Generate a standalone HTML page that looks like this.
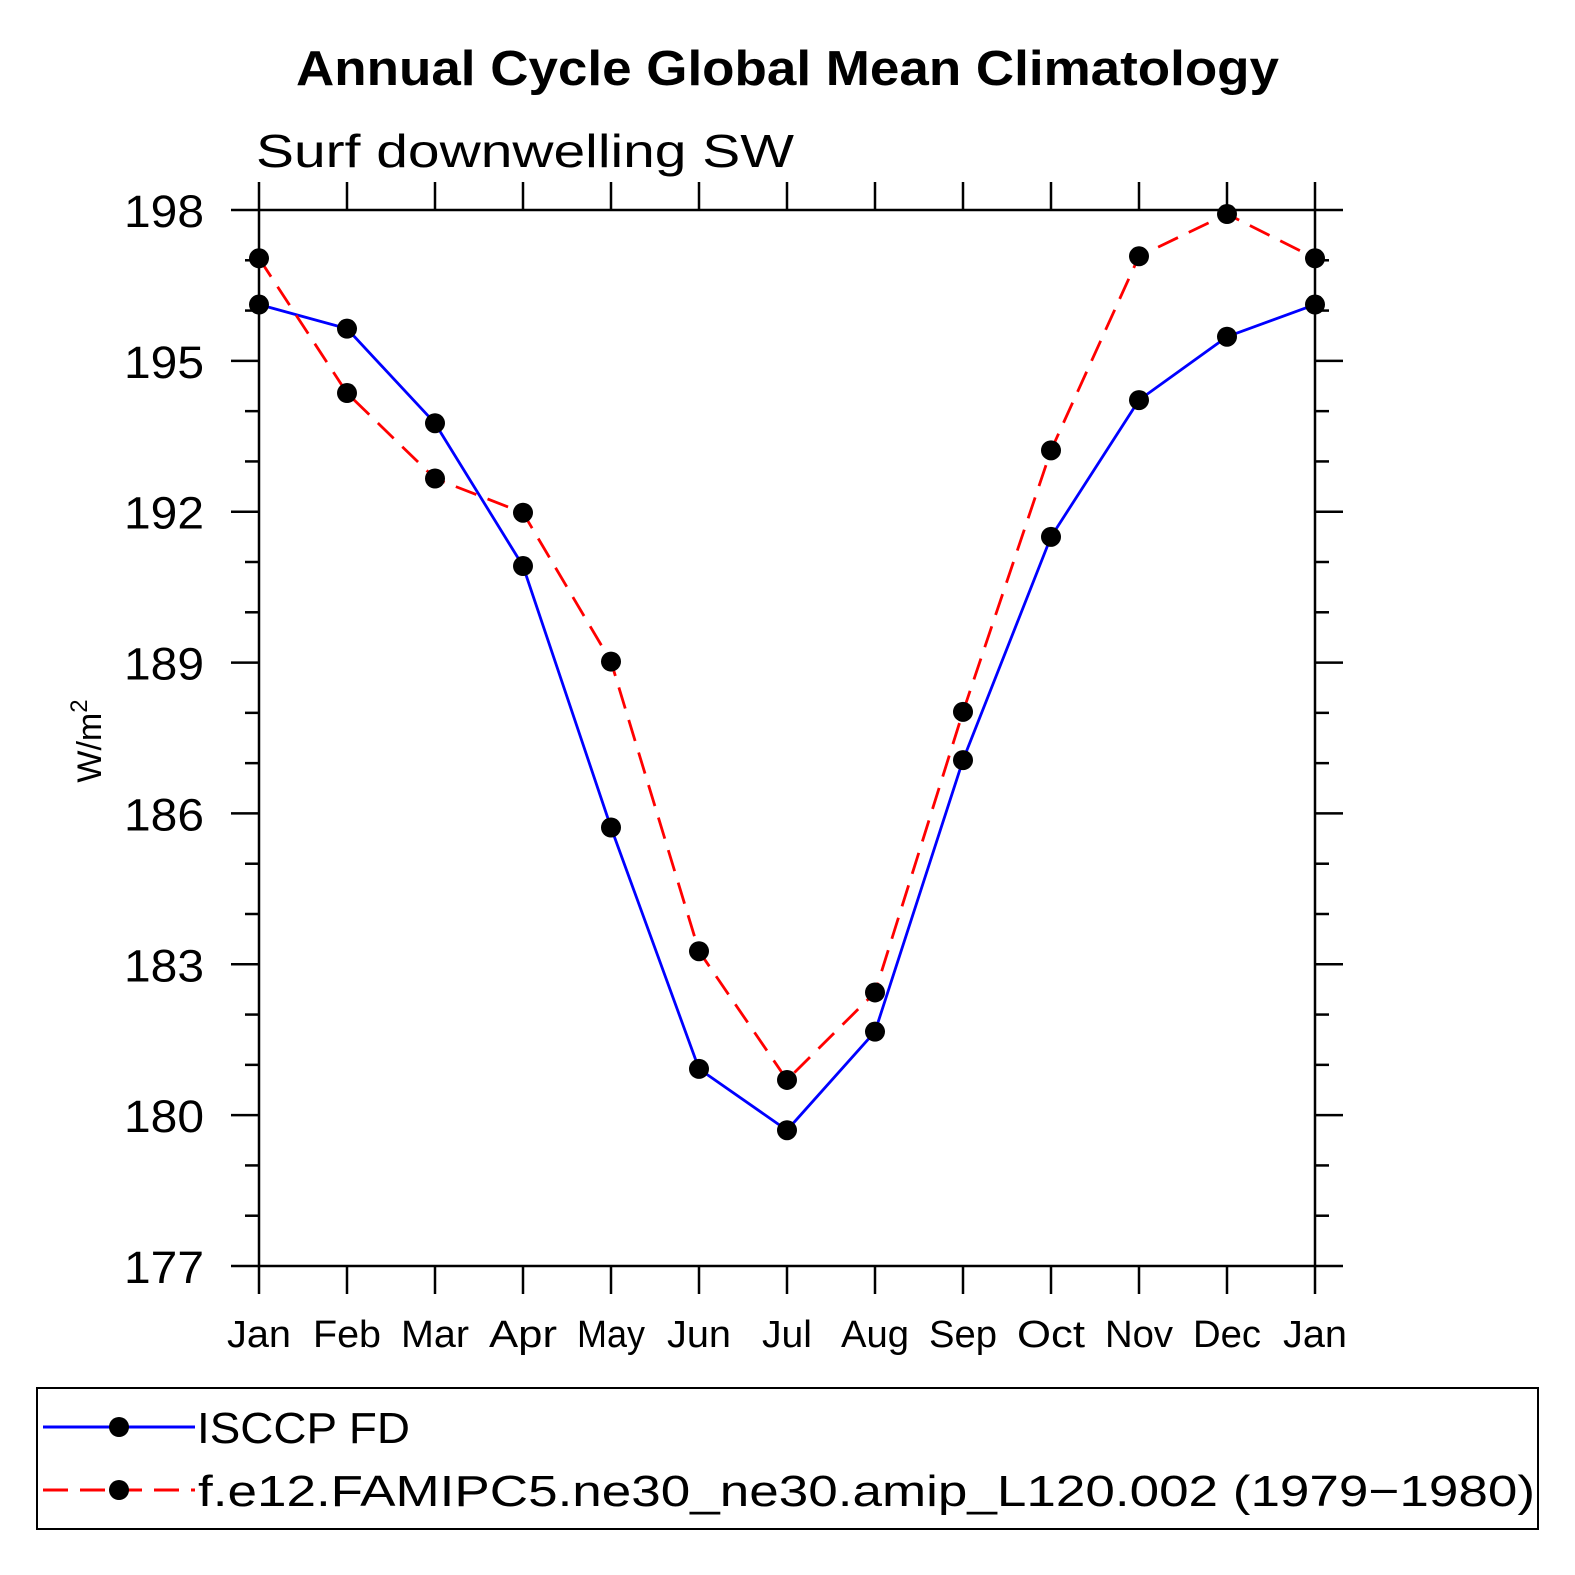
<!DOCTYPE html>
<html><head><meta charset="utf-8"><style>
html,body{margin:0;padding:0;background:#fff;overflow:hidden;width:100%;height:100%}
svg{display:block;position:fixed;left:0;top:0;width:100vw;height:100vh}
text{font-family:"Liberation Sans","DejaVu Sans",sans-serif}
</style></head><body>
<svg id="c" viewBox="0 0 1575 1575" preserveAspectRatio="none" xmlns="http://www.w3.org/2000/svg">
<rect width="1575" height="1575" fill="#fff"/>
<text x="296" y="85" font-size="49" font-weight="bold" textLength="983" lengthAdjust="spacingAndGlyphs">Annual Cycle Global Mean Climatology</text>
<text x="256" y="167" font-size="46" textLength="538" lengthAdjust="spacingAndGlyphs">Surf  downwelling SW</text>
<text transform="translate(101,741) rotate(-90)" font-size="34" text-anchor="middle">W/m<tspan dy="-14" font-size="24">2</tspan></text>
<g id="axes"></g>
<g id="series"></g>
<rect x="37" y="1388" width="1501" height="141" fill="none" stroke="#000" stroke-width="2"/>
<g>
<line x1="43" y1="1427" x2="195" y2="1427" stroke="#00f" stroke-width="3"/>
<circle cx="119" cy="1427" r="10" fill="#000"/>
<text x="197" y="1443" font-size="44" textLength="213" lengthAdjust="spacingAndGlyphs">ISCCP FD</text></g>
<g>
<line x1="43" y1="1490" x2="195" y2="1490" stroke="#f00" stroke-width="3" stroke-dasharray="25,12"/>
<circle cx="119" cy="1490" r="10" fill="#000"/>
<text x="198" y="1506" font-size="44" textLength="1337" lengthAdjust="spacingAndGlyphs">f.e12.FAMIPC5.ne30_ne30.amip_L120.002 (1979−1980)</text></g>
</svg>
<script>
const months=["Jan","Feb","Mar","Apr","May","Jun","Jul","Aug","Sep","Oct","Nov","Dec","Jan"];
const yTicks=[177,180,183,186,189,192,195,198];
const isccp=[196.12,195.64,193.76,190.92,185.72,180.92,179.7,181.66,187.06,191.5,194.22,195.48,196.12];
const model=[197.04,194.36,192.66,191.98,189.02,183.26,180.7,182.44,188.02,193.22,197.08,197.92,197.04];
const X0=259,X1=1315,Y0=1266,Y1=210,ymin=177,ymax=198;
const sx=i=>X0+(X1-X0)*i/(months.length-1);
const sy=v=>Y0-(v-ymin)/(ymax-ymin)*(Y0-Y1);
const NS="http://www.w3.org/2000/svg";
const ax=document.getElementById('axes'),se=document.getElementById('series');
function mk(tag,at,parent){const e=document.createElementNS(NS,tag);for(const k in at)e.setAttribute(k,at[k]);parent.appendChild(e);return e;}
const frame=mk('rect',{x:X0,y:Y1,width:X1-X0,height:Y0-Y1,fill:'none',stroke:'#000','stroke-width':2.5},ax);


months.forEach((m,i)=>{
  const x=sx(i);
  mk('line',{x1:x,y1:Y0,x2:x,y2:Y0+28,stroke:'#000','stroke-width':2.5},ax);
  mk('line',{x1:x,y1:Y1,x2:x,y2:Y1-28,stroke:'#000','stroke-width':2.5},ax);
  const w=m==="Jul"?50:(m==="Jan"||m==="Jun"?64:68);
  const t=mk('text',{x:x,y:1347,'font-size':38,'text-anchor':'middle',textLength:w,lengthAdjust:'spacingAndGlyphs'},ax);
  t.textContent=m;
  
  
});
for(let v=ymin;v<=ymax;v+=1){
  const y=sy(v),major=yTicks.includes(v),L=major?28:14;
  mk('line',{x1:X0-L,y1:y,x2:X0,y2:y,stroke:'#000','stroke-width':2.5},ax);
  mk('line',{x1:X1,y1:y,x2:X1+L,y2:y,stroke:'#000','stroke-width':2.5},ax);
}
yTicks.forEach(v=>{
  const t=mk('text',{x:204,y:sy(v)+17,'font-size':45,'text-anchor':'end',textLength:80,lengthAdjust:'spacingAndGlyphs'},ax);
  t.textContent=v;
  
  
});
function draw(arr,color,dash,name){
  const p=mk('polyline',{points:arr.map((v,i)=>sx(i)+','+sy(v)).join(' '),fill:'none',stroke:color,'stroke-width':2.8,'stroke-dasharray':dash},se);
  
  
  arr.forEach((v,i)=>{
    const c=mk('circle',{cx:sx(i),cy:sy(v),r:10,fill:'#000'},se);
    
    
  });
}
draw(isccp,'#00f','none','isccp');
draw(model,'#f00','22,12','model');
</script>
</body></html>
